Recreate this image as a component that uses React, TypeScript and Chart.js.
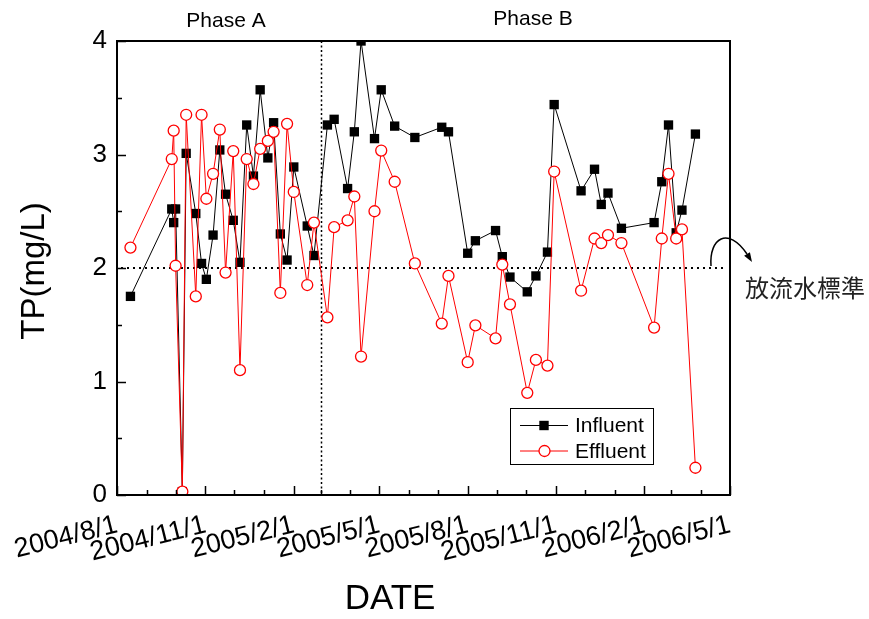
import React, { useEffect, useRef } from 'react';
import { Chart, registerables } from 'chart.js';

Chart.register(...registerables);

// ---- data ----
const sampleDates = [
  '2004/8/15', '2004/9/27', '2004/9/29', '2004/10/1', '2004/10/8', '2004/10/12',
  '2004/10/22', '2004/10/28', '2004/11/2', '2004/11/9', '2004/11/16', '2004/11/22',
  '2004/11/30', '2004/12/7', '2004/12/14', '2004/12/21', '2004/12/28', '2005/1/5',
  '2005/1/11', '2005/1/18', '2005/1/25', '2005/2/1', '2005/2/15', '2005/2/22',
  '2005/3/8', '2005/3/15', '2005/3/29', '2005/4/5', '2005/4/12', '2005/4/26',
  '2005/5/3', '2005/5/17', '2005/6/7', '2005/7/5', '2005/7/12', '2005/8/1',
  '2005/8/9', '2005/8/30', '2005/9/6', '2005/9/14', '2005/10/2', '2005/10/11',
  '2005/10/23', '2005/10/30', '2005/11/27', '2005/12/11', '2005/12/18', '2005/12/25',
  '2006/1/8', '2006/2/11', '2006/2/19', '2006/2/26', '2006/3/6', '2006/3/12', '2006/3/26',
];
const influent = [
  1.75, 2.52, 2.40, 2.52, 0.03, 3.01,
  2.48, 2.04, 1.90, 2.29, 3.04, 2.65,
  2.42, 2.05, 3.26, 2.81, 3.57, 2.97,
  3.28, 2.30, 2.07, 2.89, 2.37, 2.11,
  3.26, 3.31, 2.70, 3.20, 4.00, 3.14,
  3.57, 3.25, 3.15, 3.24, 3.20, 2.13,
  2.24, 2.33, 2.10, 1.92, 1.79, 1.93,
  2.14, 3.44, 2.68, 2.87, 2.56, 2.66,
  2.35, 2.40, 2.76, 3.26, 2.31, 2.51, 3.18,
];
const effluent = [
  2.18, 2.96, 3.21, 2.02, 0.03, 3.35,
  1.75, 3.35, 2.61, 2.83, 3.22, 1.96,
  3.03, 1.10, 2.96, 2.74, 3.05, 3.12,
  3.20, 1.78, 3.27, 2.67, 1.85, 2.40,
  1.565, 2.36, 2.42, 2.63, 1.22, 2.50,
  3.035, 2.76, 2.04, 1.51, 1.93, 1.17,
  1.495, 1.38, 2.03, 1.68, 0.90, 1.19,
  1.14, 2.85, 1.80, 2.26, 2.22, 2.29,
  2.22, 1.475, 2.26, 2.83, 2.26, 2.34, 0.24,
];
const xTickLabels = ['2004/8/1', '2004/11/1', '2005/2/1', '2005/5/1', '2005/8/1', '2005/11/1', '2006/2/1', '2006/5/1'];
const xStart = '2004/8/1';
const xEnd = '2006/5/1';
const yMin = 0;
const yMax = 4;
const phaseBoundary = '2005/3/1';
const standardLevel = 2;
const seriesNames = ['Influent', 'Effluent'];
const phaseLabels = ['Phase A', 'Phase B'];
const standardLabel = '放流水標準';
const xTitle = 'DATE';
const yTitle = 'TP(mg/L)';

// ---- helpers ----
const ORIGIN = Date.UTC(2004, 7, 1);
function dayNum(s: string): number {
  const [y, m, d] = s.split('/').map(Number);
  return Math.round((Date.UTC(y, m - 1, d) - ORIGIN) / 86400000);
}
function monthStarts(from: string, to: string): number[] {
  const [y0, m0] = from.split('/').map(Number);
  const end = dayNum(to);
  const out: number[] = [];
  let y = y0, m = m0;
  for (;;) {
    const v = dayNum(`${y}/${m}/1`);
    if (v > end) break;
    out.push(v);
    m++;
    if (m > 12) { m = 1; y++; }
  }
  return out;
}
const labelMap = new Map<number, string>(xTickLabels.map((l) => [dayNum(l), l]));
const monthTicks = monthStarts(xStart, xEnd);

const FONT = "'Liberation Sans', Arial, sans-serif";

const decorPlugin = {
  id: 'decor',
  beforeDatasetsDraw(chart: any) {
    const { ctx, chartArea: a, scales } = chart;
    const x = scales.x, y = scales.y;
    ctx.save();
    ctx.strokeStyle = '#000';
    ctx.lineWidth = 2;
    ctx.setLineDash([2, 4]);
    const yy = Math.round(y.getPixelForValue(standardLevel));
    ctx.beginPath();
    ctx.moveTo(a.left + 4, yy);
    ctx.lineTo(a.right - 3, yy);
    ctx.stroke();
    ctx.lineWidth = 1.5;
    ctx.setLineDash([2, 2.5]);
    const xx = Math.round(x.getPixelForValue(dayNum(phaseBoundary))) + 0.5;
    ctx.beginPath();
    ctx.moveTo(xx, a.top);
    ctx.lineTo(xx, a.bottom);
    ctx.stroke();
    ctx.restore();
  },
  afterDatasetsDraw(chart: any) {
    const { ctx, chartArea: a, scales } = chart;
    const x = scales.x, y = scales.y;
    ctx.save();
    ctx.strokeStyle = '#000';
    ctx.lineWidth = 2;
    ctx.strokeRect(a.left, a.top, a.right - a.left, a.bottom - a.top);
    ctx.lineWidth = 1.5;
    ctx.beginPath();
    for (const t of x.ticks) {
      const px = Math.round(x.getPixelForValue(t.value)) + 0.5;
      const len = labelMap.has(t.value) ? 9 : 5;
      ctx.moveTo(px, a.bottom);
      ctx.lineTo(px, a.bottom - len);
    }
    for (const t of y.ticks) {
      const py = Math.round(y.getPixelForValue(t.value)) + 0.5;
      const len = Number.isInteger(t.value) ? 9 : 5;
      ctx.moveTo(a.left, py);
      ctx.lineTo(a.left + len, py);
    }
    ctx.stroke();
    ctx.restore();
  },
  afterDraw(chart: any) {
    const { ctx, chartArea: a } = chart;
    ctx.save();
    ctx.fillStyle = '#000';
    // axis titles
    ctx.font = `35px ${FONT}`;
    ctx.textAlign = 'center';
    ctx.textBaseline = 'middle';
    ctx.fillText(xTitle, 390, 599);
    ctx.font = `33px ${FONT}`;
    ctx.save();
    ctx.translate(35, (a.top + a.bottom) / 2 + 3);
    ctx.rotate(-Math.PI / 2);
    ctx.fillText(yTitle, 0, 0);
    ctx.restore();
    // phase labels
    ctx.font = `21px ${FONT}`;
    ctx.fillText(phaseLabels[0], 226, 21);
    ctx.fillText(phaseLabels[1], 533, 19);
    // legend
    const lx = 510, ly = 408, lw = 143, lh = 56;
    ctx.lineWidth = 1;
    ctx.strokeStyle = '#000';
    ctx.strokeRect(lx + 0.5, ly + 0.5, lw, lh);
    const rows = [
      { name: seriesNames[0], color: '#000', y: 425.5 },
      { name: seriesNames[1], color: '#ff0000', y: 451 },
    ];
    rows.forEach((r, i) => {
      ctx.strokeStyle = r.color;
      ctx.lineWidth = 1;
      ctx.beginPath();
      ctx.moveTo(520, r.y);
      ctx.lineTo(568, r.y);
      ctx.stroke();
      if (i === 0) {
        ctx.fillStyle = '#000';
        ctx.fillRect(544 - 4.7, r.y - 4.7, 9.4, 9.4);
      } else {
        ctx.fillStyle = '#fff';
        ctx.beginPath();
        ctx.arc(544.5, r.y, 5.5, 0, Math.PI * 2);
        ctx.fill();
        ctx.lineWidth = 1.3;
        ctx.stroke();
      }
      ctx.fillStyle = '#000';
      ctx.font = `21px ${FONT}`;
      ctx.textAlign = 'left';
      ctx.textBaseline = 'middle';
      ctx.fillText(r.name, 575, r.y + 1);
    });
    // standard annotation arrow
    ctx.strokeStyle = '#000';
    ctx.lineWidth = 1.5;
    ctx.beginPath();
    ctx.moveTo(711, 266);
    ctx.bezierCurveTo(709, 238, 728, 226, 747, 254);
    ctx.stroke();
    ctx.beginPath();
    const tipX = 752, tipY = 262;
    const ang = Math.atan2(262 - 254, 752 - 747);
    ctx.moveTo(tipX, tipY);
    ctx.lineTo(tipX - 10 * Math.cos(ang - 0.35), tipY - 10 * Math.sin(ang - 0.35));
    ctx.lineTo(tipX - 10 * Math.cos(ang + 0.35), tipY - 10 * Math.sin(ang + 0.35));
    ctx.closePath();
    ctx.fillStyle = '#000';
    ctx.fill();
    ctx.font = `24px 'Noto Sans CJK TC', 'Noto Sans CJK SC', sans-serif`;
    ctx.textAlign = 'left';
    ctx.textBaseline = 'middle';
    ctx.fillStyle = '#222';
    ctx.fillText(standardLabel, 745, 288);
    ctx.restore();
  },
};

export default function App() {
  const ref = useRef<HTMLCanvasElement | null>(null);
  useEffect(() => {
    if (!ref.current) return;
    const xs = sampleDates.map(dayNum);
    const chart = new Chart(ref.current, {
      type: 'line',
      data: {
        datasets: [
          {
            label: seriesNames[0],
            data: xs.map((x, i) => ({ x, y: influent[i] })),
            borderColor: '#000',
            borderWidth: 1,
            pointStyle: 'rect',
            pointRadius: 6.6,
            pointBackgroundColor: '#000',
            pointBorderColor: '#000',
            pointBorderWidth: 0,
            tension: 0,
            order: 1,
          },
          {
            label: seriesNames[1],
            data: xs.map((x, i) => ({ x, y: effluent[i] })),
            borderColor: '#ff0000',
            borderWidth: 1,
            pointStyle: 'circle',
            pointRadius: 5.5,
            pointBackgroundColor: '#fff',
            pointBorderColor: '#ff0000',
            pointBorderWidth: 1.3,
            tension: 0,
            order: 0,
          },
        ],
      },
      options: {
        animation: false,
        responsive: false,
        maintainAspectRatio: false,
        events: [],
        layout: { padding: { top: 41, right: 139, left: 0, bottom: 0 } },
        plugins: { legend: { display: false }, tooltip: { enabled: false } },
        scales: {
          x: {
            type: 'linear',
            min: dayNum(xStart),
            max: dayNum(xEnd),
            grid: { display: false, drawTicks: false },
            border: { display: false },
            afterBuildTicks: (scale: any) => {
              scale.ticks = monthTicks.map((v) => ({ value: v }));
            },
            afterFit: (scale: any) => {
              scale.height = 124;
            },
            ticks: {
              autoSkip: false,
              minRotation: 14,
              maxRotation: 14,
              padding: 14,
              color: '#000',
              font: { family: FONT, size: 27 },
              callback: (v: any) => labelMap.get(Number(v)) ?? '',
            },
          },
          y: {
            type: 'linear',
            min: yMin,
            max: yMax,
            grid: { display: false, drawTicks: false },
            border: { display: false },
            afterFit: (scale: any) => {
              scale.width = 117;
            },
            ticks: {
              stepSize: 0.5,
              padding: 10,
              color: '#000',
              font: { family: FONT, size: 26 },
              callback: (v: any) => (Number.isInteger(Number(v)) ? String(v) : ''),
            },
          },
        },
      },
      plugins: [decorPlugin],
    });
    return () => chart.destroy();
  }, []);
  return (
    <div style={{ position: 'absolute', left: 0, top: 0, width: 869, height: 619, background: '#fff' }}>
      <canvas ref={ref} width={869} height={619} style={{ width: 869, height: 619, display: 'block' }} />
    </div>
  );
}
